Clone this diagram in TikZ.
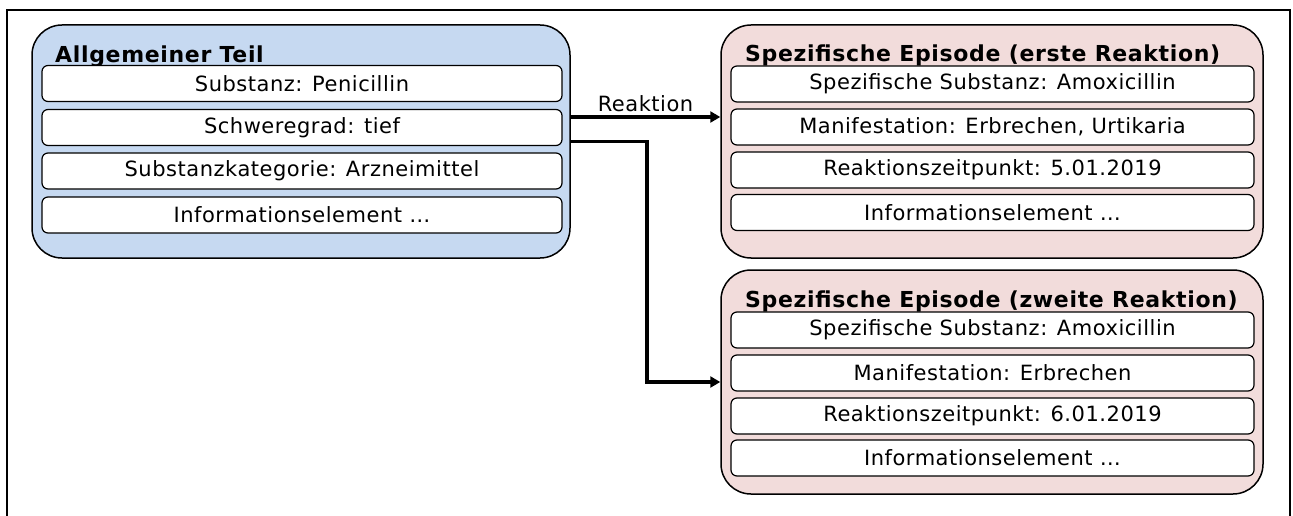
\documentclass[tikz,border=0pt]{standalone}
\usepackage{fontspec}
\setmainfont{DejaVu Sans}[LetterSpace=2.5]
\usetikzlibrary{arrows.meta}

\definecolor{genblue}{HTML}{C6D9F1}
\definecolor{epired}{HTML}{F2DCDB}

\tikzset{
	group/.style={draw, line width=1.5pt, rounded corners=30pt, inner sep=0pt},
	titel/.style={anchor=base west, inner sep=0pt, font=\fontsize{22}{26}\selectfont\bfseries\addfontfeature{LetterSpace=3}},
	row/.style={draw, fill=white, line width=1.2pt, rounded corners=6pt, inner sep=0pt,
		minimum height=36pt, font=\fontsize{21}{25}\selectfont},
	conn/.style={line width=3.5pt, -{Triangle[length=10pt,width=11pt]}}
}

\begin{document}
\begin{tikzpicture}[x=1pt, y=-1pt]
	\useasboundingbox (0,0) rectangle (1293,516);
	\draw[line width=2pt] (7,516)--(7,10)--(1290,10)--(1290,516);

	% allgemeiner Teil
	\node[group, fill=genblue, minimum width=538pt, minimum height=233pt] (gen) at (301,141.5) {};
	\node[titel] (gtitle) at (55,63) {Allgemeiner Teil};
	\node[row, minimum width=520pt] (g1) at (302,83.5) {Substanz: Penicillin};
	\node[row, minimum width=520pt] (g2) at (302,127.5) {Schweregrad: tief};
	\node[row, minimum width=520pt] (g3) at (302,171) {Substanzkategorie: Arzneimittel};
	\node[row, minimum width=520pt] (g4) at (302,215) {Informationselement \dots};

	% erste Reaktion
	\node[group, fill=epired, minimum width=542pt, minimum height=233pt] (ep1) at (992,141.5) {};
	\node[titel] (atitle) at (745,62) {Spezifische Episode (erste Reaktion)};
	\node[row, minimum width=523pt] (a1) at (992.5,84) {Spezifische Substanz: Amoxicillin};
	\node[row, minimum width=523pt] (a2) at (992.5,127) {Manifestation: Erbrechen, Urtikaria};
	\node[row, minimum width=523pt] (a3) at (992.5,170) {Reaktionszeitpunkt: 5.01.2019};
	\node[row, minimum width=523pt] (a4) at (992.5,212.5) {Informationselement \dots};

	% zweite Reaktion
	\node[group, fill=epired, minimum width=542pt, minimum height=224pt] (ep2) at (992,382) {};
	\node[titel] (btitle) at (745,307) {Spezifische Episode (zweite Reaktion)};
	\node[row, minimum width=523pt] (b1) at (992.5,330) {Spezifische Substanz: Amoxicillin};
	\node[row, minimum width=523pt] (b2) at (992.5,373) {Manifestation: Erbrechen};
	\node[row, minimum width=523pt] (b3) at (992.5,416) {Reaktionszeitpunkt: 6.01.2019};
	\node[row, minimum width=523pt] (b4) at (992.5,458) {Informationselement \dots};

	\draw[conn] ([yshift=24.5pt]gen.east) -- node[above, inner sep=3pt, font=\fontsize{21}{25}\selectfont] {Reaktion} ([yshift=24.5pt]ep1.west);
	\draw[conn] (gen.east) -- ++(76,0) |- (ep2.west);
\end{tikzpicture}
\end{document}
